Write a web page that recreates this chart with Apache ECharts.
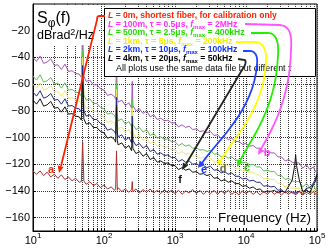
<!DOCTYPE html>
<html><head><meta charset="utf-8">
<script src="https://cdn.jsdelivr.net/npm/echarts@6/dist/echarts.min.js"></script>
<style>html,body{margin:0;padding:0;background:#fff}#c{width:334px;height:249px}</style>
</head><body><div id="c"></div>
<script>
// ---------- data ----------
const freqs = [10,11.2,12.6,14.1,15.8,17.8,20,22.4,25.1,28.2,31.6,35.5,39.8,44.7,48,50,52,56.2,63.1,70.8,79.4,89.1,100,112,126,141,146,150,154,158,178,200,224,245,250,255,282,316,355,398,447,501,562,631,708,794,891,1000,1120,1260,1410,1580,1780,2000,2240,2510,2820,3160,3550,3980,4470,5010,5620,6310,7080,7940,8910,10000,11200,12600,14100,15800,17800,20000,22400,25100,28200,31600,35500,39800,44700,48500,50000,51500,56200,63100,70800,79400,89100,95000,100000];

// a: L = 0m (calibration)
const sL0 = [-125,-127.5,-125,-128.5,-126,-129.5,-127.5,-130.5,-128,-131.5,-129.5,-132.5,-130.5,-133.5,-133,-103,-132.5,-135,-133,-136,-134.5,-137.5,-135.5,-138.5,-137,-139.5,-138,-110,-139.5,-137.5,-140.5,-138.5,-141,-139,-133,-140.5,-138.5,-141.5,-139,-141,-138.5,-141.5,-139.5,-142,-139,-141.5,-139.5,-142,-139.5,-142.5,-140,-141.5,-139,-142,-139.5,-142.5,-140,-142,-139.5,-142.5,-140,-142,-139.5,-142.5,-140.5,-143,-140,-142,-140,-142.5,-140.5,-143,-140.5,-142.5,-140,-142.5,-140.5,-143,-140.5,-142.5,-140.5,-142.5,-141,-142.5,-140.5,-143,-141,-142.5,-140.5,-142.5,-141];
// b: L = 100m
const s100 = [-40,-43,-39,-44.5,-43.5,-41,-46,-45.5,-49,-45,-50.5,-50,-52,-52.5,-55,-20,-54,-58,-57,-60.5,-60.5,-63.5,-64.5,-68.5,-67.5,-69.5,-71.5,-44,-70,-73.5,-72,-76,-74,-78,-58,-76,-80,-78.5,-82,-80,-84.5,-83,-86.5,-85.5,-87.5,-87,-89,-89,-92,-90.5,-92.5,-91.5,-94,-93.5,-95.5,-95,-96.5,-95.5,-98.5,-98,-100.5,-99.5,-101.5,-100.5,-103,-103,-105,-104.5,-106.5,-106,-108,-108,-111,-110.5,-111.5,-111.5,-114.5,-114.5,-117.5,-116.5,-118.5,-119,-118,-119.5,-119,-123,-120.5,-124,-122,-125.5,-125];
// c: L = 500m
const s500 = [-54,-57,-53,-58.5,-57.5,-55,-60,-59.5,-63,-59,-64.5,-64,-66,-66.5,-69,-34,-68,-72,-71,-74.5,-74.5,-77.5,-78.5,-82.5,-81.5,-83.5,-85.5,-58,-84,-87.5,-86,-90,-88,-92,-72,-90,-94,-92.5,-96,-94,-98.5,-97,-100.5,-99.5,-101.5,-101,-103,-103,-106,-104.5,-106.5,-105.5,-108,-107.5,-109.5,-109,-110.5,-109.5,-112.5,-112,-114.5,-113.5,-115.5,-114.5,-117,-117,-119,-118.5,-120.5,-120,-122,-122,-125,-124.5,-125.5,-125.5,-128.5,-128.5,-131.5,-130.5,-132.5,-133,-132,-133.5,-133,-137,-134.5,-137.5,-135.5,-139,-138.5];
// d: L = 1km
const s1k = [-60,-63,-59,-64.5,-63.5,-61,-66,-65.5,-69,-65,-70.5,-70,-72,-72.5,-75,-40,-74,-78,-77,-80.5,-80.5,-83.5,-84.5,-88.5,-87.5,-89.5,-91.5,-64,-90,-93.5,-92,-96,-94,-98,-78,-96,-100,-98.5,-102,-100,-104.5,-103,-106.5,-105.5,-107.5,-107,-109,-109,-112,-110.5,-112.5,-111.5,-114,-113.5,-115.5,-115,-116.5,-115.5,-118.5,-118,-120.5,-119.5,-121.5,-120.5,-123,-123,-125,-124.5,-126.5,-126,-128,-128,-131,-130.5,-131.5,-131.5,-134.5,-134.5,-137,-136,-138,-138,-137,-138.5,-138,-141.5,-138.5,-141.5,-138.5,-142,-141];
// e: L = 2km
const s2k = [-66,-69,-65,-70.5,-69.5,-67,-72,-71.5,-75,-71,-76.5,-76,-78,-78.5,-81,-46,-80,-84,-83,-86.5,-86.5,-89.5,-90.5,-94.5,-93.5,-95.5,-97.5,-70,-96,-99.5,-98,-102,-100,-104,-84,-102,-106,-104.5,-108,-106,-110.5,-109,-112.5,-111.5,-113.5,-113,-115,-115,-118,-116.5,-118.5,-117.5,-120,-119.5,-121.5,-121,-122.5,-121.5,-124.5,-124,-126.5,-125.5,-127.5,-126.5,-129,-129,-131,-130.5,-132.5,-132,-133.5,-133.5,-136.5,-136,-137,-136.5,-139.5,-139,-141.5,-140,-141.5,-141.5,-140,-141.5,-140,-142.5,-138,-137.5,-134,-131,-127];
// f: L = 4km
const s4k = [-72,-75,-71,-76.5,-75.5,-73,-78,-77.5,-81,-77,-82.5,-82,-84,-84.5,-87,-52,-86,-90,-89,-92.5,-92.5,-95.5,-96.5,-100.5,-99.5,-101.5,-103.5,-76,-102,-105.5,-104,-108,-106,-110,-90,-108,-112,-110.5,-114,-112,-116.5,-115,-118.5,-117.5,-119.5,-119,-121,-121,-124,-122.5,-124.5,-123.5,-126,-125.5,-127.5,-127,-128.5,-127.5,-130.5,-130,-132.5,-131.5,-133.5,-132.5,-134.5,-134.5,-136.5,-136,-138,-137,-139,-138.5,-141,-140,-140.5,-139.5,-141.5,-140,-141,-136.5,-132,-121,-113,-121,-131.5,-140.5,-139,-141.5,-135,-133,-128];

const xLabelValues = [10,100,1000,10000,100000];
const xGridValues = [10,20,30,40,50,60,70,80,90,100,200,300,400,500,600,700,800,900,1000,2000,3000,4000,5000,6000,7000,8000,9000,10000,20000,30000,40000,50000,60000,70000,80000,90000,100000];
const yLabelValues = [-160,-140,-120,-100,-80,-60,-40,-20];

const legendLines = [
  '{i|L} = 0m, shortest fiber, for calibration only',
  '{i|L} = 100m, τ = 0.5μs, {i|f}{s|max} = 2MHz',
  '{i|L} = 500m, τ = 2.5μs, {i|f}{s|max} = 400kHz',
  '{i|L} = 1km, τ = 5μs, {i|f}{s|max} = 200kHz',
  '{i|L} = 2km, τ = 10μs, {i|f}{s|max} = 100kHz',
  '{i|L} = 4km, τ = 20μs, {i|f}{s|max} = 50kHz'
];
const noteText = 'All plots use the same data file but different τ';
const curveLetters = ['a','b','c','d','e','f'];

// ---------- chart ----------
const FONT = '"Liberation Sans", Arial, Helvetica, sans-serif';
const lineColors = ['#a8302e','#a257b5','#5cbf50','#ecec72','#1f2a8c','#111111'];
const textColors = ['#ff2200','#ff33ff','#22dd00','#eeee00','#1133ff','#000000'];
const arrowColors = ['#ff2200','#ff55ff','#22ee00','#ffff00','#2244ff','#222222'];
const letterColors = ['#ff2200','#ff44ff','#22dd00','#6b6b3a','#1133ff','#111111'];

const chart = echarts.init(document.getElementById('c'), null, {renderer:'canvas'});
const pairs = arr => freqs.map((f, i) => [f, arr[i]]);
const seriesData = [sL0, s100, s500, s1k, s2k, s4k];
const drawOrder = [1,2,3,4,5,0];

function richFor(size, color, weight) {
  return {
    i: {fontSize:size, fontFamily:FONT, fontWeight:weight, fontStyle:'italic', fill:color},
    s: {fontSize:size*0.7, fontFamily:FONT, fontWeight:weight, fontStyle:'normal', fill:color, verticalAlign:'bottom', lineHeight:size*1.25},
    n: {fontSize:size, fontFamily:FONT, fontWeight:weight, fontStyle:'normal', fill:color}
  };
}
function arrowHead(tip, from, color) {
  const dx = tip[0]-from[0], dy = tip[1]-from[1];
  const L = Math.hypot(dx, dy), ux = dx/L, uy = dy/L, len = 7, w = 3;
  const bx = tip[0]-ux*len, by = tip[1]-uy*len;
  return {type:'polygon', z:120, shape:{points:[tip,[bx-uy*w,by+ux*w],[bx+uy*w,by-ux*w]]}, style:{fill:color}};
}
function samplePath(segs) {
  const pts = [];
  let cur = null;
  segs.forEach(s => {
    if (s[0] === 'M' || s[0] === 'L') { cur = [s[1], s[2]]; pts.push(cur); }
    else if (s[0] === 'Q') {
      const p0 = cur;
      for (let t = 1; t <= 8; t++) { const u = t/8, a = (1-u)*(1-u), b = 2*u*(1-u), c = u*u;
        pts.push([a*p0[0]+b*s[1]+c*s[3], a*p0[1]+b*s[2]+c*s[4]]); }
      cur = [s[3], s[4]];
    } else if (s[0] === 'C') {
      const p0 = cur;
      for (let t = 1; t <= 16; t++) { const u = t/16, a = (1-u)**3, b = 3*u*(1-u)**2, c = 3*u*u*(1-u), d = u**3;
        pts.push([a*p0[0]+b*s[1]+c*s[3]+d*s[5], a*p0[1]+b*s[2]+c*s[4]+d*s[6]]); }
      cur = [s[5], s[6]];
    }
  });
  return pts;
}

// annotation geometry (pixels)
const legendBox = {x:104, y:8, w:211, h:68};
const legendX = 108, legendY0 = 16, legendDY = 8.5;
const arrows = [
  {segs:[['M',105,16],['L',99,16],['Q',97,16,97,20],['L',61,166]], tip:[59,173], from:[97,20]},
  {segs:[['M',245,24],['L',280,25],['C',290,26,292,35,291,50],['C',290,95,275,125,261,149]], tip:[258,155], from:[275,125]},
  {segs:[['M',251,33],['L',268,33],['C',276,33,279,42,278,55],['C',276,110,250,140,240,161]], tip:[237,167], from:[250,140]},
  {segs:[['M',236,42],['L',255,42],['C',263,42,267,50,266,62],['C',264,110,232,140,221,160]], tip:[217,166], from:[232,140]},
  {segs:[['M',243,51],['L',250,51],['C',255,51,258,56,257,64],['C',254,110,218,140,202,163]], tip:[198,168], from:[218,140]},
  {segs:[['M',238,59],['L',245,60],['Q',247,63,242,70],['L',186,164]], tip:[182,170], from:[242,70]}
];
const letterPos = [[51,170],[267,153],[247,168],[223,169],[204,170],[180,180]];

const graphic = [];
graphic.push({type:'rect', z:100, shape:{x:34, y:5, width:64, height:40}, style:{fill:'#fff'}});
graphic.push({type:'text', z:110, style:{x:37, y:19, text:'S{p|φ}{n|(f)}', fontSize:16, fontFamily:FONT, fill:'#000', verticalAlign:'middle',
  rich:{p:{fontSize:12, fontFamily:FONT, fill:'#000', verticalAlign:'bottom', lineHeight:22}, n:{fontSize:16, fontFamily:FONT, fill:'#000'}}}});
graphic.push({type:'text', z:110, style:{x:37, y:36, text:'dBrad{p|2}{n|/Hz}', fontSize:12.5, fontFamily:FONT, fill:'#000', verticalAlign:'middle',
  rich:{p:{fontSize:9, fontFamily:FONT, fill:'#000', verticalAlign:'top', lineHeight:9}, n:{fontSize:12.5, fontFamily:FONT, fill:'#000', lineHeight:15}}}});
graphic.push({type:'rect', z:100, shape:{x:legendBox.x+0.5, y:legendBox.y+0.5, width:legendBox.w, height:legendBox.h}, style:{fill:'#fff', stroke:'#000', lineWidth:1}});
legendLines.forEach((t, k) => {
  graphic.push({type:'text', z:110, style:{x:legendX, y:legendY0 + k*legendDY, text:t, fontSize:8.6, fontFamily:FONT, fontWeight:'bold', fill:textColors[k], verticalAlign:'middle',
    rich:richFor(8.6, textColors[k], 'bold')}});
});
graphic.push({type:'text', z:110, style:{x:116, y:legendY0 + 6*legendDY + 1.5, text:noteText, fontSize:8.9, fontFamily:FONT, fill:'#000', verticalAlign:'middle'}});
arrows.forEach((a, k) => {
  graphic.push({type:'polyline', z:115, shape:{points:samplePath(a.segs)}, style:{fill:null, stroke:arrowColors[k], lineWidth:1.8}});
  graphic.push(arrowHead(a.tip, a.from, arrowColors[k]));
  graphic.push({type:'text', z:120, style:{x:letterPos[k][0], y:letterPos[k][1], text:curveLetters[k], fontSize:11, fontWeight:'bold', fontFamily:FONT, fill:letterColors[k], align:'center', verticalAlign:'middle'}});
});
graphic.push({type:'rect', z:100, shape:{x:216, y:209, width:100, height:18}, style:{fill:'#fff'}});
graphic.push({type:'text', z:110, style:{x:218, y:218.5, text:'Frequency (Hz)', fontSize:13.5, fontFamily:FONT, fill:'#000', verticalAlign:'middle'}});

const option = {
  animation:false,
  backgroundColor:'#fff',
  grid:{left:33, right:17, top:4, bottom:18, containLabel:false, outerBoundsMode:'none', show:true, borderColor:'#000', borderWidth:1},
  xAxis:{
    type:'log', logBase:10, min:10, max:100000,
    axisLine:{show:true, onZero:false, lineStyle:{color:'#000', width:1}},
    axisTick:{show:true, inside:true, length:3, customValues:xGridValues, lineStyle:{color:'#000'}},
    axisLabel:{customValues:xLabelValues, margin:1, formatter:v => '{b|10}{s|' + Math.round(Math.log10(v)) + '}',
      rich:{b:{fontSize:11, fontFamily:FONT, color:'#000', lineHeight:18}, s:{fontSize:8, fontFamily:FONT, color:'#000', verticalAlign:'top', lineHeight:8}}},
    splitLine:{show:true, lineStyle:{color:'#333', type:'dotted', width:1}},
    minorTick:{show:false}
  },
  yAxis:{
    type:'value', min:-170, max:0,
    axisLine:{show:true, onZero:false, lineStyle:{color:'#000', width:1}},
    axisTick:{show:true, inside:true, length:3, customValues:yLabelValues, lineStyle:{color:'#000'}},
    axisLabel:{customValues:yLabelValues, margin:3, fontSize:11, fontFamily:FONT, color:'#000', formatter:v => String(v).replace('-', '\u2212')},
    splitLine:{show:true, lineStyle:{color:'#333', type:'dotted', width:1}}
  },
  series: drawOrder.map(k => ({
    type:'line', name:curveLetters[k], data:pairs(seriesData[k]), showSymbol:false, symbol:'none',
    lineStyle:{color:lineColors[k], width:1}, itemStyle:{color:lineColors[k]}, z:2+drawOrder.indexOf(k), silent:true, clip:true
  })),
  graphic: graphic
};
chart.setOption(option);
</script></body></html>
